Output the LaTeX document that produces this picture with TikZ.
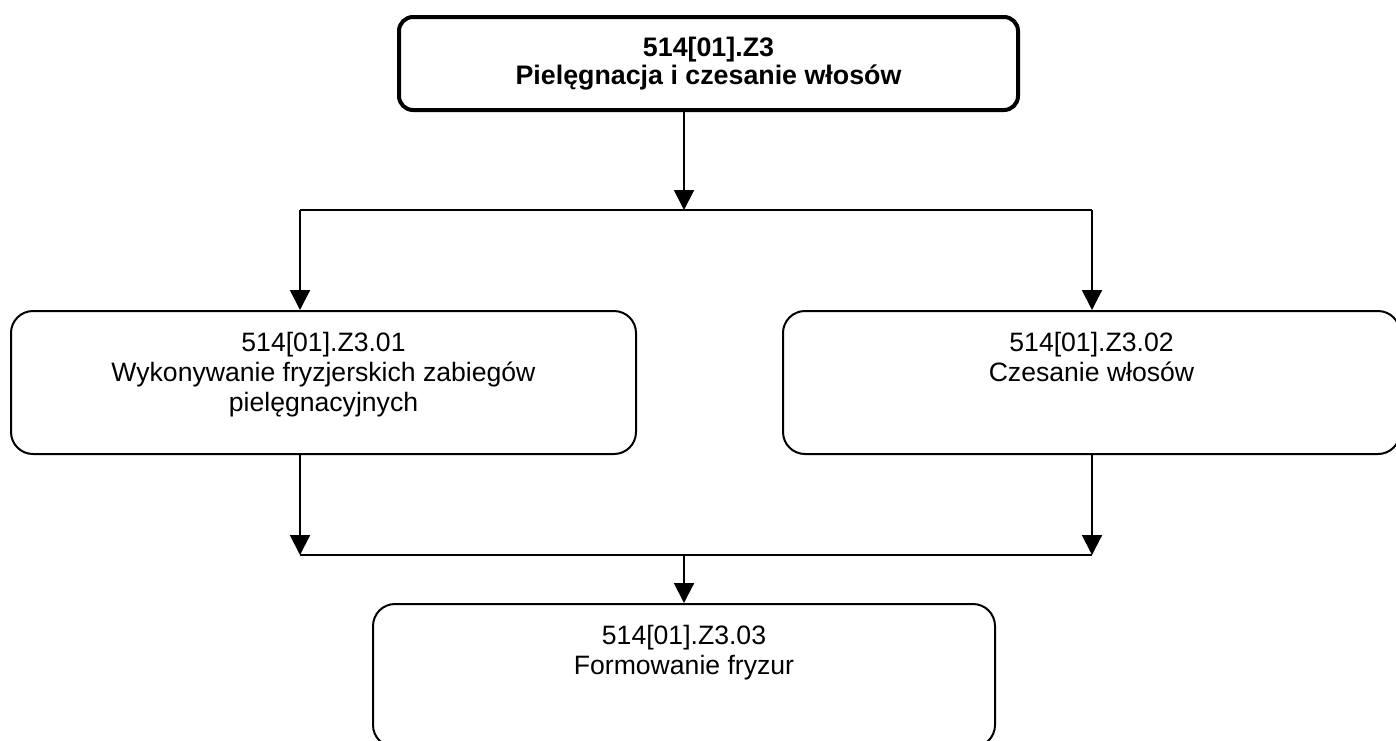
\documentclass[tikz,border=0pt]{standalone}
\usepackage{fontspec}
\setmainfont{Liberation Sans}
\usetikzlibrary{arrows.meta, positioning}

\tikzset{
  topbox/.style={draw, line width=2pt, rounded corners=7pt, inner sep=0pt, align=center,
    minimum width=309.5pt, minimum height=46.5pt, font=\bfseries\fontsize{13.4}{14}\selectfont},
  box/.style={draw, line width=1pt, rounded corners=11pt, inner sep=0pt, minimum height=71.5pt},
  boxtext/.style={align=center, inner sep=0pt, font=\fontsize{13.3}{15}\selectfont},
  arr/.style={-{Triangle[length=10pt,width=10pt]}, line width=1pt},
  link/.style={line width=1pt},
}

\begin{document}
\begin{tikzpicture}[x=0.5pt, y=-0.5pt]
  % picture frame (also cuts off the last box)
  \clip (0,0) rectangle (1396,740);

  % Main unit
  \node[topbox] (main) at (708.5,63.5) {514[01].Z3\\Pielęgnacja i czesanie włosów};

  % Units of the module
  \node[box, minimum width=312.5pt] (left) at (323.5,382.5) {};
  \node[box, minimum width=308.5pt] (right) at (1091.5,382.5) {};
  \node[box, minimum width=311pt] (final) at (684,675.5) {};

  \node[boxtext, below=10.8pt of left.north] (lefttxt) {514[01].Z3.01\\Wykonywanie fryzjerskich zabiegów\\pielęgnacyjnych};
  \node[boxtext, below=10.8pt of right.north] (righttxt) {514[01].Z3.02\\Czesanie włosów};
  \node[boxtext, below=10.8pt of final.north] (finaltxt) {514[01].Z3.03\\Formowanie fryzur};

  % Branch points
  \coordinate (split) at (684,210);
  \coordinate (splitL) at (300,210);
  \coordinate (splitR) at (1092,210);
  \coordinate (join) at (684,555);
  \coordinate (joinL) at (300,555);
  \coordinate (joinR) at (1092,555);

  % Arrows down from the main unit
  \draw[arr] (main.south -| split) -- (split);
  \draw[link] (splitL) -- (splitR);
  \foreach \s/\b in {splitL/left, splitR/right} {
    \draw[arr] (\s) -- (\s |- \b.north);
  }

  % Arrows into the last unit
  \foreach \s/\b in {joinL/left, joinR/right} {
    \draw[arr] (\s |- \b.south) -- (\s);
  }
  \draw[link] (joinL) -- (joinR);
  \draw[arr] (join) -- (join |- final.north);
\end{tikzpicture}
\end{document}
